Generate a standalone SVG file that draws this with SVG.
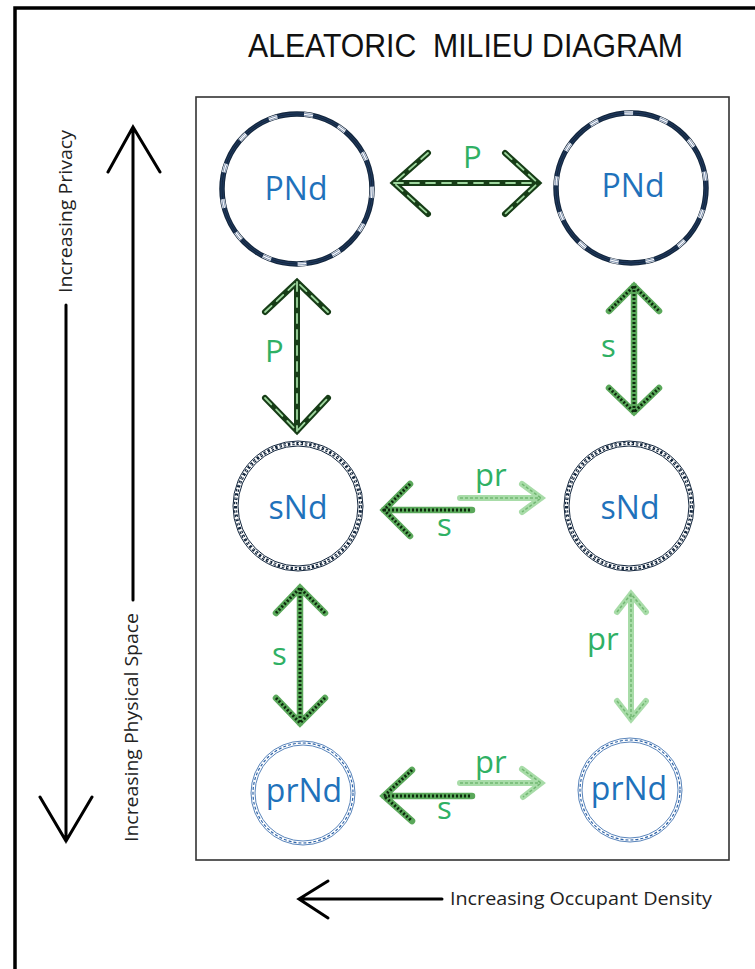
<svg xmlns="http://www.w3.org/2000/svg" width="755" height="969" viewBox="0 0 755 969">
<style>
.frame{fill:none;stroke:#000;stroke-width:3.5}
.inner{fill:none;stroke:#333;stroke-width:1.6}
.blk{fill:none;stroke:#000;stroke-width:3;stroke-linecap:round;stroke-linejoin:miter}
.title{font-family:"Liberation Sans",Arial,sans-serif;font-size:33px;fill:#111;white-space:pre}
.side{font-family:"Open Sans","Liberation Sans",sans-serif;font-size:18px;fill:#222}
.node{font-family:"Open Sans","Liberation Sans",sans-serif;font-size:32px;fill:#1f72bb;text-anchor:middle}
.glab{font-family:"Open Sans","Liberation Sans",sans-serif;font-size:31px;fill:#2fb064}
.pn{fill:none;stroke:#13263d;stroke-width:5.5}
.pnw{fill:none;stroke:#fff;stroke-width:4;stroke-dasharray:9 27}
.pnt{fill:none;stroke:#2a4a7a;stroke-width:0.6}
.sn{fill:none;stroke:#13263d;stroke-width:1}
.snd{fill:none;stroke:#13263d;stroke-width:3.2;stroke-dasharray:2.5 1.8}
.snw{fill:none;stroke:#fff;stroke-width:0.8;stroke-dasharray:4 3}
.pr{fill:none;stroke:#2f64a8;stroke-width:0.8}
.prd{fill:none;stroke:#2f64a8;stroke-width:1.2;stroke-dasharray:3 2}
.aP{fill:none;stroke:#173d17;stroke-width:6;stroke-linecap:round;stroke-linejoin:miter}
.aPo{fill:none;stroke:#9fd89f;stroke-width:1.8;stroke-dasharray:9 7;stroke-linecap:round}
.aS{fill:none;stroke:#5aa85a;stroke-width:6.5;stroke-linecap:round;stroke-linejoin:miter}
.aSo{fill:none;stroke:#0d2a0d;stroke-width:3;stroke-dasharray:2 2}
.aR{fill:none;stroke:#a8dca8;stroke-width:6;stroke-linecap:round;stroke-linejoin:miter}
.aRo{fill:none;stroke:#72b872;stroke-width:1.5;stroke-dasharray:3 2}
</style>

<path class="frame" d="M15,969 V8 H755"/>
<rect class="inner" x="196" y="97" width="533" height="763"/>

<text class="title" x="248" y="57" textLength="435" lengthAdjust="spacingAndGlyphs" xml:space="preserve">ALEATORIC  MILIEU DIAGRAM</text>

<g id="axis-privacy">
<path class="blk" d="M133,600 V127 M108,172 L133,127 L160,172"/>
<text class="side" transform="translate(72,293) rotate(-90)" textLength="163" lengthAdjust="spacingAndGlyphs">Increasing Privacy</text>
</g>
<g id="axis-space">
<path class="blk" d="M66,305 V841 M40,797 L66,841 L92,797"/>
<text class="side" transform="translate(138,842) rotate(-90)" textLength="229" lengthAdjust="spacingAndGlyphs">Increasing Physical Space</text>
</g>
<g id="axis-density">
<path class="blk" d="M442,899 H299 M328,881 L299,899 L328,918"/>
<text class="side" x="450" y="905" textLength="262" lengthAdjust="spacingAndGlyphs">Increasing Occupant Density</text>
</g>

<g id="connectors">
<g id="c-PNd-PNd">
<path class="aP" d="M428,153 L394,183 L428,214 M394,183 H538 M505,153 L538,183 L505,214"/>
<path class="aPo" d="M428,153 L394,183 L428,214 M394,183 H538 M505,153 L538,183 L505,214"/>
<text class="glab" x="463" y="168">P</text>
</g>
<g id="c-PNd-sNd-left">
<path class="aP" d="M265,312 L297,282 L328,312 M297,282 V431 M265,398 L297,431 L328,398"/>
<path class="aPo" d="M265,312 L297,282 L328,312 M297,282 V431 M265,398 L297,431 L328,398"/>
<text class="glab" x="265" y="362">P</text>
</g>
<g id="c-PNd-sNd-right">
<path class="aS" d="M609,311 L634,286 L659,311 M634,286 V412 M609,388 L634,412 L659,388"/>
<path class="aSo" d="M609,311 L634,286 L659,311 M634,286 V412 M609,388 L634,412 L659,388"/>
<text class="glab" x="601" y="357">s</text>
</g>
<g id="c-sNd-sNd">
<path class="aS" d="M410,484 L384,510 L410,536 M384,510 H472"/>
<path class="aSo" d="M410,484 L384,510 L410,536 M384,510 H472"/>
<path class="aR" d="M460,498 H541 M522,484 L541,498 L522,512"/>
<path class="aRo" d="M460,498 H541 M522,484 L541,498 L522,512"/>
<text class="glab" x="475" y="486">pr</text>
<text class="glab" x="437" y="536">s</text>
</g>
<g id="c-sNd-prNd-left">
<path class="aS" d="M276,613 L300,588 L325,613 M300,588 V723 M276,698 L300,723 L325,698"/>
<path class="aSo" d="M276,613 L300,588 L325,613 M300,588 V723 M276,698 L300,723 L325,698"/>
<text class="glab" x="272" y="665">s</text>
</g>
<g id="c-sNd-prNd-right">
<path class="aR" d="M617,612 L631,594 L646,612 M631,594 V719 M617,701 L631,719 L646,701"/>
<path class="aRo" d="M617,612 L631,594 L646,612 M631,594 V719 M617,701 L631,719 L646,701"/>
<text class="glab" x="587" y="650">pr</text>
</g>
<g id="c-prNd-prNd">
<path class="aS" d="M412,770 L384,796 L412,821 M384,796 H472"/>
<path class="aSo" d="M412,770 L384,796 L412,821 M384,796 H472"/>
<path class="aR" d="M460,783 H541 M522,769 L541,783 L523,797"/>
<path class="aRo" d="M460,783 H541 M522,769 L541,783 L523,797"/>
<text class="glab" x="475" y="773">pr</text>
<text class="glab" x="437" y="819">s</text>
</g>
</g>

<g id="node-PNd-left">
<circle class="pn" cx="297" cy="189" r="75"/>
<circle class="pnw" cx="297" cy="189" r="75"/>
<circle class="pnt" cx="297" cy="189" r="74"/>
<circle class="pnt" cx="297" cy="189" r="76"/>
<text class="node" x="296" y="200">PNd</text>
</g>
<g id="node-PNd-right">
<circle class="pn" cx="631" cy="188" r="75"/>
<circle class="pnw" cx="631" cy="188" r="75" style="stroke-dashoffset:14"/>
<circle class="pnt" cx="631" cy="188" r="74"/>
<circle class="pnt" cx="631" cy="188" r="76"/>
<text class="node" x="633" y="197">PNd</text>
</g>
<g id="node-sNd-left">
<circle class="sn" cx="298" cy="506" r="65"/>
<circle class="snd" cx="298" cy="506" r="62.5"/>
<circle class="snw" cx="298" cy="506" r="62.5"/>
<circle class="sn" cx="298" cy="506" r="60"/>
<text class="node" x="298" y="519">sNd</text>
</g>
<g id="node-sNd-right">
<circle class="sn" cx="629" cy="506" r="65"/>
<circle class="snd" cx="629" cy="506" r="62.5"/>
<circle class="snw" cx="629" cy="506" r="62.5"/>
<circle class="sn" cx="629" cy="506" r="60"/>
<text class="node" x="630" y="519">sNd</text>
</g>
<g id="node-prNd-left">
<circle class="pr" cx="303" cy="793" r="52"/>
<circle class="prd" cx="303" cy="793" r="50"/>
<circle class="pr" cx="303" cy="793" r="48"/>
<text class="node" x="304" y="802">prNd</text>
</g>
<g id="node-prNd-right">
<circle class="pr" cx="630" cy="790" r="52"/>
<circle class="prd" cx="630" cy="790" r="50"/>
<circle class="pr" cx="630" cy="790" r="48"/>
<text class="node" x="629" y="800">prNd</text>
</g>
</svg>
